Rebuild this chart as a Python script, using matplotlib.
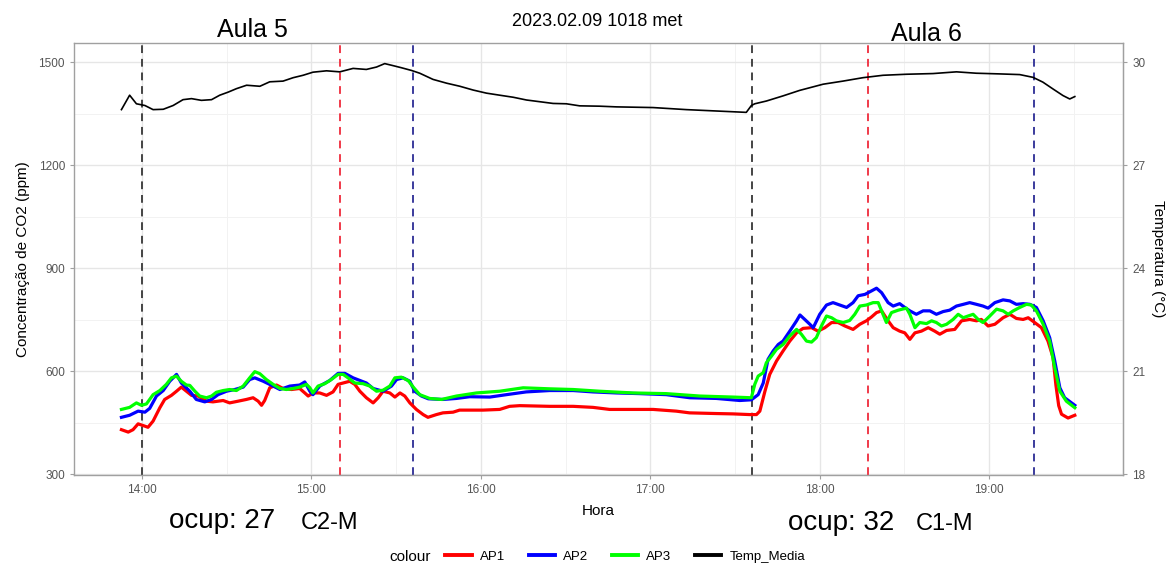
import numpy as np
import matplotlib
matplotlib.use("Agg")
import matplotlib.pyplot as plt
import matplotlib.dates as mdates
from matplotlib.lines import Line2D

plt.rcParams['font.family'] = ['Liberation Sans', 'DejaVu Sans']

# minutes after 14:00 / CO2 (ppm)
t_ap1 = [-7.2, -4.8, -3.1, -1.3, 0.5, 2.2, 4.0, 6.4, 8.1, 10.5, 12.3, 14.0, 15.8, 17.6, 19.9,
         22.9, 25.2, 28.8, 31.1, 34.1, 37.0, 39.4, 41.2, 42.4, 43.5, 45.3, 47.7, 50.0, 53.0,
         55.9, 57.7, 58.9, 60.6, 63.0, 65.4, 67.7, 69.5, 71.3, 73.6, 75.4, 77.2, 79.5, 81.9,
         83.7, 85.4, 87.8, 89.6, 91.4, 93.1, 94.9, 97.2, 99.6, 101.3, 104.3, 106.6, 110.2,
         112.5, 120.8, 126.7, 130.2, 133.8, 144.4, 152.7, 159.7, 165.6, 173.9, 181.0, 189.2,
         193.9, 203.4, 209.3, 215.2, 217.6, 218.8, 220.6, 222.3, 224.7, 227.0, 229.4, 231.8,
         234.1, 237.1, 239.4, 241.8, 244.2, 246.5, 248.9, 251.8, 254.2, 256.5, 258.3, 260.1,
         261.9, 264.2, 266.0, 268.3, 270.1, 271.9, 273.7, 276.0, 278.4, 280.7, 282.5, 284.9,
         287.8, 290.2, 293.1, 295.5, 297.2, 299.6, 302.0, 304.9, 307.3, 309.6, 312.0, 313.8,
         316.1, 318.5, 320.8, 322.6, 323.6, 324.6, 325.6, 327.9, 330.3]
ap1 = [430, 423, 430, 447, 442, 437, 455, 494, 518, 530, 542, 554, 542, 530, 528,
       513, 511, 515, 508, 513, 518, 523, 513, 501, 515, 552, 560, 550, 547,
       550, 537, 528, 537, 537, 530, 540, 562, 566, 571, 562, 542, 523, 508,
       523, 542, 537, 525, 537, 528, 508, 489, 474, 466, 474, 479, 481,
       487, 487, 489, 498, 500, 498, 498, 495, 489, 489, 489, 484,
       479, 477, 476, 474, 474, 484, 542, 591, 630, 659, 688, 712,
       725, 727, 717, 727, 742, 742, 732, 722, 737, 747, 758, 771,
       776, 747, 727, 717, 712, 693, 712, 717, 727, 717, 708, 719,
       722, 747, 751, 747, 751, 732, 737, 756, 766, 754, 751, 756,
       742, 727, 688, 640, 560, 500, 475, 464, 472]

t_ap2 = [-7.2, -4.3, -1.3, 1.1, 2.8, 5.2, 7.6, 9.9, 12.3, 14.0, 17.0, 19.3, 22.3, 24.7, 27.0,
         30.0, 32.9, 35.9, 38.2, 40.0, 43.0, 46.5, 48.9, 52.4, 55.9, 57.7, 59.5, 60.6, 63.0,
         66.5, 69.5, 71.9, 74.8, 79.5, 81.9, 85.4, 88.4, 90.2, 92.5, 94.9, 96.6, 99.0, 101.4,
         106.6, 111.4, 116.1, 123.2, 129.1, 136.1, 144.4, 152.7, 159.7, 168.0, 176.3, 185.7,
         194.0, 203.4, 211.7, 215.8, 218.2, 220.0, 221.7, 223.5, 225.3, 227.0, 229.4, 231.8,
         233.0, 234.7, 236.5, 237.7, 240.0, 242.4, 244.7, 247.1, 249.5, 251.8, 253.6, 256.0,
         258.3, 260.1, 261.9, 264.2, 266.0, 268.3, 270.1, 271.9, 274.2, 276.6, 279.0, 281.3,
         283.7, 286.0, 288.4, 290.8, 293.1, 295.5, 297.8, 299.6, 302.0, 304.9, 307.3, 309.6,
         312.0, 314.4, 316.7, 319.1, 321.4, 323.2, 325.0, 326.7, 330.3]
ap2 = [466, 472, 484, 481, 492, 528, 544, 571, 591, 566, 542, 518, 511, 518, 532,
       542, 547, 554, 576, 581, 571, 557, 547, 557, 560, 569, 542, 532, 557,
       573, 594, 594, 581, 566, 550, 542, 557, 576, 581, 571, 542, 528, 520,
       518, 521, 526, 525, 532, 540, 544, 544, 540, 537, 535, 532,
       523, 521, 515, 517, 532, 566, 635, 659, 678, 688, 717, 747,
       764, 751, 737, 727, 766, 793, 800, 793, 786, 800, 820, 824,
       834, 842, 829, 800, 790, 797, 786, 776, 766, 776, 776, 766,
       774, 778, 790, 795, 800, 795, 790, 784, 800, 808, 805, 795,
       797, 795, 786, 747, 698, 630, 552, 523, 501]

t_ap3 = [-7.2, -4.3, -1.9, -0.1, 1.65, 4.0, 6.4, 8.7, 10.5, 12.3, 14.0, 15.8, 17.0, 18.8, 20.5,
         22.9, 24.7, 26.4, 28.8, 31.1, 33.5, 35.9, 38.2, 40.0, 41.8, 44.1, 46.5, 48.9, 51.2,
         53.6, 55.9, 58.3, 59.5, 60.6, 62.4, 64.8, 67.1, 69.5, 71.3, 73.0, 75.4, 78.3, 80.7,
         83.1, 85.4, 87.8, 89.6, 91.9, 94.3, 96.1, 98.4, 101.9, 106.1, 111.4, 118.5, 126.7,
         135.0, 144.4, 152.7, 162.1, 173.9, 185.7, 197.5, 209.3, 215.8, 217.0, 218.2, 220.0,
         221.1, 222.9, 224.7, 227.0, 229.4, 231.8, 233.5, 235.3, 237.1, 238.8, 240.6, 242.4,
         244.2, 245.9, 248.3, 250.6, 252.4, 254.2, 256.5, 258.9, 260.7, 261.9, 263.6, 265.4,
         267.8, 270.7, 271.9, 273.7, 275.4, 277.8, 279.6, 281.3, 283.1, 284.9, 287.2, 289.0,
         290.8, 292.5, 294.3, 296.1, 297.8, 300.2, 302.6, 304.9, 306.7, 308.5, 310.8, 313.2,
         314.9, 316.7, 319.1, 321.4, 323.2, 325.0, 327.3, 330.3]
ap3 = [489, 495, 508, 501, 505, 532, 544, 562, 581, 586, 571, 560, 559, 542, 528,
       523, 528, 539, 544, 547, 544, 557, 581, 599, 593, 576, 562, 550, 547,
       550, 554, 562, 552, 537, 557, 564, 576, 591, 591, 581, 566, 564, 557,
       542, 545, 557, 581, 583, 573, 554, 532, 521, 518, 528, 537, 542,
       552, 549, 547, 542, 537, 535, 528, 525, 523, 562, 586, 596,
       625, 644, 664, 678, 703, 722, 708, 688, 685, 698, 732, 761,
       756, 747, 742, 748, 766, 790, 793, 800, 800, 776, 742, 771,
       778, 784, 766, 727, 742, 739, 747, 742, 732, 737, 751, 766,
       756, 761, 766, 751, 742, 761, 781, 776, 766, 776, 786, 795,
       793, 776, 737, 688, 610, 542, 513, 494]

# mean temperature (°C)
t_temp = [-7.2, -4.3, -1.9, 1.1, 4.0, 7.6, 11.1, 14.6, 17.6, 21.1, 24.7, 27.6, 30.6, 33.5,
          37.1, 41.8, 45.3, 50.0, 53.6, 57.1, 60.6, 65.4, 70.1, 74.8, 79.5, 83.1, 86.0, 89.0,
          91.9, 95.5, 98.4, 103.1, 107.9, 112.6, 117.3, 122.0, 126.7, 131.5, 136.2, 140.9,
          145.6, 150.3, 155.0, 162.1, 168.0, 181.0, 192.8, 203.4, 214.0, 215.8, 217.0, 221.1,
          227.0, 232.9, 241.2, 248.2, 255.3, 262.4, 270.7, 280.1, 288.4, 295.4, 303.7, 310.8,
          315.5, 319.0, 322.6, 326.1, 328.5, 330.3]
temp = [28.62, 29.04, 28.79, 28.74, 28.62, 28.63, 28.74, 28.91, 28.94, 28.89, 28.91, 29.04,
        29.13, 29.23, 29.33, 29.30, 29.43, 29.45, 29.55, 29.62, 29.71, 29.75, 29.72, 29.82,
        29.79, 29.86, 29.96, 29.90, 29.84, 29.76, 29.68, 29.50, 29.39, 29.30, 29.19, 29.10,
        29.04, 28.98, 28.90, 28.85, 28.80, 28.79, 28.73, 28.72, 28.70, 28.68, 28.62, 28.58,
        28.54, 28.74, 28.79, 28.87, 29.02, 29.18, 29.36, 29.45, 29.55, 29.62, 29.65, 29.67,
        29.72, 29.68, 29.66, 29.64, 29.56, 29.42, 29.22, 29.03, 28.93, 29.00]

vline_times = ['14:00', '15:10', '15:36', '17:36', '18:17', '19:16']
vline_colors = ['#444444', '#f03a4a', '#3b3b9c', '#444444', '#f03a4a', '#3b3b9c']

base = np.datetime64('2023-02-09T14:00')


def to_time(mins):
    return base + (np.round(np.array(mins) * 60)).astype(int).astype('timedelta64[s]')


def temp_to_ppm(T):
    return (np.asarray(T) - 18) * 100 + 300


def ppm_to_temp(p):
    return (np.asarray(p) - 300) / 100 + 18


fig = plt.figure(figsize=(11.67, 5.68), dpi=100)
ax = fig.add_axes([0.0634, 0.1637, 0.899, 0.7606])

for s, c in zip(vline_times, vline_colors):
    ax.axvline(np.datetime64('2023-02-09T' + s), color=c, lw=1.4, ls=(0, (4, 3)), zorder=2)

ax.plot(to_time(t_ap1), ap1, color='#ff0000', lw=2.3, zorder=3)
ax.plot(to_time(t_ap2), ap2, color='#0000ff', lw=2.3, zorder=3)
ax.plot(to_time(t_ap3), ap3, color='#00ff00', lw=2.3, zorder=3)
ax.plot(to_time(t_temp), temp_to_ppm(temp), color='black', lw=1.2, zorder=3)

ax.set_xlim(to_time([-24])[0], to_time([347.4])[0])
ax.set_ylim(298, 1556)
ax.set_yticks([300, 600, 900, 1200, 1500])
ax.set_yticks([450, 750, 1050, 1350], minor=True)
ax.xaxis.set_major_locator(mdates.HourLocator())
ax.xaxis.set_minor_locator(mdates.MinuteLocator(byminute=[30]))
ax.xaxis.set_major_formatter(mdates.DateFormatter('%H:%M'))

ax.grid(which='major', color='#e6e6e6', lw=1.0, zorder=0)
ax.grid(which='minor', color='#f2f2f2', lw=0.7, zorder=0)
ax.set_axisbelow(True)
for sp in ax.spines.values():
    sp.set_color('#a0a0a0')
    sp.set_linewidth(1.0)
ax.tick_params(which='major', length=3, color='#a0a0a0', labelsize=8.5, labelcolor='#555555')
ax.tick_params(which='minor', length=0)

ax.set_xlabel('Hora', fontsize=11, labelpad=6)
ax.set_ylabel('Concentração de CO2 (ppm)', fontsize=11, labelpad=6)

sec = ax.secondary_yaxis('right', functions=(ppm_to_temp, temp_to_ppm))
sec.set_yticks([18, 21, 24, 27, 30])
sec.spines['right'].set_color('#a0a0a0')
sec.tick_params(length=3, color='#a0a0a0', labelsize=8.5, labelcolor='#555555')
sec.set_ylabel('Temperatura (°C)', fontsize=11, rotation=270, labelpad=14)

fig.text(0.216, 0.947, 'Aula 5', fontsize=18, ha='center', va='center')
fig.text(0.512, 0.963, '2023.02.09 1018 met', fontsize=13, ha='center', va='center')
fig.text(0.794, 0.940, 'Aula 6', fontsize=18, ha='center', va='center')

fig.text(0.145, 0.083, 'ocup: 27', fontsize=20, ha='left', va='center')
fig.text(0.258, 0.080, 'C2-M', fontsize=17, ha='left', va='center')
fig.text(0.675, 0.080, 'ocup: 32', fontsize=20, ha='left', va='center')
fig.text(0.785, 0.077, 'C1-M', fontsize=17, ha='left', va='center')

handles = [Line2D([], [], color=c, lw=2.8) for c in ['#ff0000', '#0000ff', '#00ff00', 'black']]
fig.text(0.334, 0.020, 'colour', fontsize=11, ha='left', va='center')
fig.legend(handles, ['AP1', 'AP2', 'AP3', 'Temp_Media'], ncol=4, loc='center left',
           bbox_to_anchor=(0.376, 0.020), frameon=False, fontsize=9.5,
           handlelength=2.0, handletextpad=0.6, columnspacing=1.8, borderpad=0)

fig.savefig('out.png', dpi=100)
